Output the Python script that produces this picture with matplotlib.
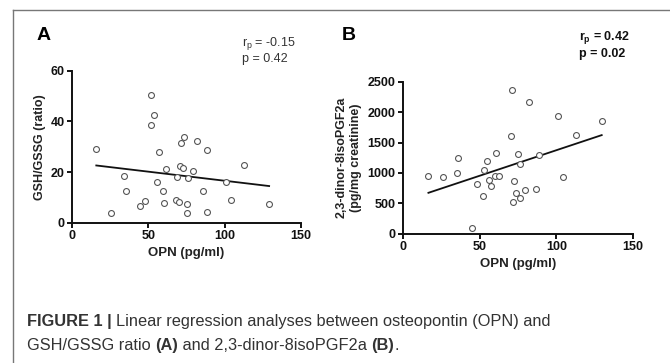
import numpy as np
import matplotlib
matplotlib.use("Agg")
import matplotlib.pyplot as plt
from matplotlib.lines import Line2D

plt.rcParams['font.family'] = ['Liberation Sans', 'DejaVu Sans']

# Panel A: OPN vs GSH/GSSG ratio
opn_a = [15.9, 25.3, 34.3, 35.4, 44.5, 47.6, 51.7, 51.7, 53.9, 55.5, 56.8, 59.6,
         60.0, 61.8, 68.3, 69.0, 70.1, 70.9, 71.4, 72.5, 73.1, 75.1, 75.1, 76.0,
         79.0, 81.7, 86.0, 88.6, 88.2, 100.9, 104.2, 112.4, 129.1]
gsh_a = [28.9, 3.9, 18.3, 12.5, 6.6, 8.4, 50.5, 38.7, 42.5, 16.2, 27.8, 12.5,
         7.8, 21.2, 8.8, 18.2, 8.2, 22.5, 31.4, 21.4, 33.9, 3.9, 7.5, 17.6,
         20.3, 32.2, 12.5, 28.7, 4.1, 16.2, 8.8, 22.6, 7.5]

# Panel B: OPN vs 2,3-dinor-8isoPGF2a
opn_b = [16.4, 25.7, 34.9, 36.0, 44.7, 48.0, 52.5, 52.3, 54.5, 56.0, 57.3, 60.4,
         60.0, 62.4, 70.4, 71.3, 71.5, 72.6, 73.5, 75.2, 76.1, 76.5, 79.6, 82.2,
         86.6, 88.9, 101.4, 104.7, 113.2, 129.7]
iso_b = [948, 937, 1003, 1239, 88, 822, 1053, 620, 1195, 883, 789, 1321,
         943, 954, 1601, 2357, 521, 861, 669, 1316, 1140, 581, 713, 2171,
         729, 1288, 1941, 937, 1623, 1853]

x_ticks = [0, 50, 100, 150]
ya_ticks = [0, 20, 40, 60]
yb_ticks = [0, 500, 1000, 1500, 2000, 2500]

fig = plt.figure(figsize=(6.7, 3.63), dpi=100)

# frame around the figure panel
fig.add_artist(Line2D([0.0194, 1], [0.9725, 0.9725], color='#777777', lw=1))
fig.add_artist(Line2D([0.0194, 0.0194], [0, 0.9725], color='#777777', lw=1))


def panel(rect, x, y, yticks, ylim):
    ax = fig.add_axes(rect)
    ax.scatter(x, y, s=18, facecolors='white', edgecolors='#555555',
               linewidths=0.8, clip_on=False, zorder=3)
    m, b = np.polyfit(x, y, 1)
    xs = np.array([min(x), max(x)])
    ax.plot(xs, m * xs + b, color='#111111', lw=1.3)
    ax.set_xlim(0, 150)
    ax.set_ylim(*ylim)
    ax.set_xticks(x_ticks)
    ax.set_yticks(yticks)
    for s in ['top', 'right']:
        ax.spines[s].set_visible(False)
    for s in ['left', 'bottom']:
        ax.spines[s].set_linewidth(1.4)
        ax.spines[s].set_color('#111111')
    ax.tick_params(width=1.4, length=3.5, labelsize=9, colors='#111111', pad=2)
    for lab in ax.get_xticklabels() + ax.get_yticklabels():
        lab.set_fontweight('bold')
    ax.set_xlabel('OPN (pg/ml)', fontsize=9.5, fontweight='bold', color='#222222',
                  labelpad=3)
    return ax


ax1 = panel([0.1075, 0.3865, 0.3418, 0.4187], opn_a, gsh_a, ya_ticks, (0, 60))
ax1.set_ylabel('GSH/GSSG (ratio)', fontsize=9, fontweight='bold', color='#222222',
               labelpad=3)
ax2 = panel([0.602, 0.3562, 0.3424, 0.4187], opn_b, iso_b, yb_ticks, (0, 2500))
ax2.set_ylabel('2,3-dinor-8isoPGF2a\n(pg/mg creatinine)', fontsize=9,
               fontweight='bold', color='#222222', linespacing=1.25, labelpad=4)

# panel letters and stats
fig.text(37 / 670, 1 - 35 / 363, 'A', fontsize=14, fontweight='bold', va='center')
fig.text(342 / 670, 1 - 35 / 363, 'B', fontsize=14, fontweight='bold', va='center')
fig.text(242 / 670, 1 - 44 / 363, r'r$_\mathregular{p}$ = -0.15', fontsize=9,
         color='#333333', va='center')
fig.text(242 / 670, 1 - 59 / 363, 'p = 0.42', fontsize=9, color='#333333', va='center')
fig.text(579 / 670, 1 - 38 / 363, r'r$_\mathregular{p}$ = 0.42', fontsize=9,
         fontweight='bold', color='#111111', va='center')
fig.text(579 / 670, 1 - 54 / 363, 'p = 0.02', fontsize=9, fontweight='bold',
         color='#111111', va='center')

# caption
cap = dict(fontsize=11.8, color='#333333')
t1 = fig.text(27 / 670, 1 - 326 / 363, 'FIGURE 1 | ', fontweight='bold', va='baseline', **cap)
plt.annotate('Linear regression analyses between osteopontin (OPN) and',
             xy=(1, 0), xycoords=t1, va='bottom', **cap)
t2 = fig.text(27 / 670, 1 - 350 / 363, 'GSH/GSSG ratio ', va='baseline', **cap)
t3 = plt.annotate('(A)', xy=(1, 0), xycoords=t2, va='bottom', fontweight='bold', **cap)
t4 = plt.annotate(' and 2,3-dinor-8isoPGF2a ', xy=(1, 0), xycoords=t3, va='bottom', **cap)
t5 = plt.annotate('(B)', xy=(1, 0), xycoords=t4, va='bottom', fontweight='bold', **cap)
plt.annotate('.', xy=(1, 0), xycoords=t5, va='bottom', **cap)

fig.savefig('out.png', dpi=100)
